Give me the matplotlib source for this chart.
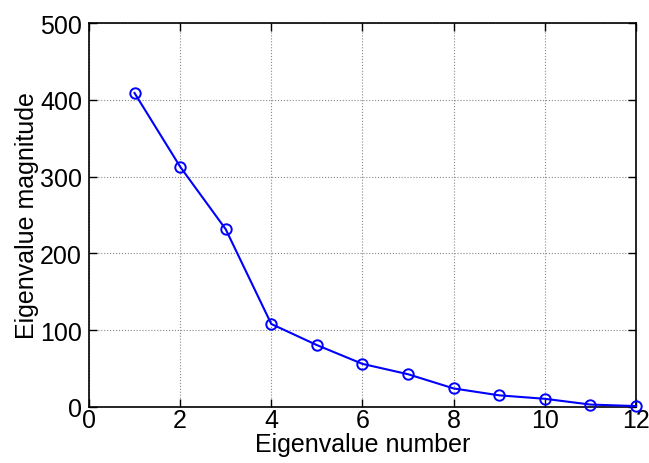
import matplotlib

matplotlib.use("Agg")
import matplotlib.pyplot as plt

matplotlib.rcParams.update(
    {
        "font.family": ["Liberation Sans", "DejaVu Sans"],
        "font.size": 18,
        "xtick.direction": "in",
        "ytick.direction": "in",
        "xtick.top": True,
        "ytick.right": True,
    }
)

EIG_NUMBER = [1, 2, 3, 4, 5, 6, 7, 8, 9, 10, 11, 12]
EIG_MAGNITUDE = [409, 313, 231.5, 108, 80.5, 56, 42.5, 24, 15, 10.5, 3, 1]
X_TICKS = [0, 2, 4, 6, 8, 10, 12]
Y_TICKS = [0, 100, 200, 300, 400, 500]

fig = plt.figure(figsize=(6.49, 4.64), dpi=100)
ax = fig.add_axes([0.137, 0.121, 0.843, 0.827])

ax.plot(
    EIG_NUMBER,
    EIG_MAGNITUDE,
    color="#0000ff",
    linewidth=1.5,
    marker="o",
    markersize=7.5,
    markerfacecolor="none",
    markeredgewidth=1.4,
    clip_on=False,
    zorder=3,
)

ax.set_xlim(0, 12)
ax.set_ylim(0, 500)
ax.set_xticks(X_TICKS)
ax.set_yticks(Y_TICKS)
ax.grid(True, linestyle=":", linewidth=0.8, color="#888888")
ax.tick_params(axis="x", length=6, width=1, pad=1)
ax.tick_params(axis="y", length=6, width=1, pad=5)
for spine in ax.spines.values():
    spine.set_linewidth(1.2)

ax.set_xlabel("Eigenvalue number", labelpad=0)
ax.set_ylabel("Eigenvalue magnitude", labelpad=1)

fig.savefig("out.png", dpi=100)
